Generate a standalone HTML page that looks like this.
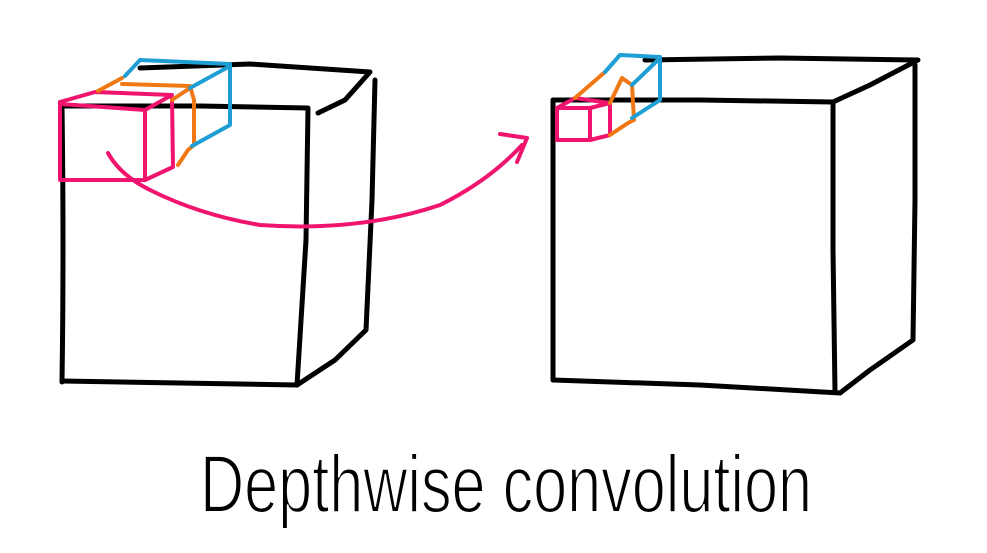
<!DOCTYPE html>
<html><head><style>body{margin:0;background:#fff}svg{display:block}</style></head><body>
<svg width="987" height="553" viewBox="0 0 987 553" xmlns="http://www.w3.org/2000/svg" fill="none" stroke-linecap="round" stroke-linejoin="round">
<g stroke="#000" stroke-width="5">
<path d="M62,106 Q64,250 62,382"/>
<path d="M62,106 L200,106 L308,108 L306,240 L297,385"/>
<path d="M62,381 L297,385"/>
<path d="M140,68 L250,64 L370,72 L345,100 L318,113"/>
<path d="M375,80 L372,200 L366,330 L335,360 L297,385"/>
<path d="M553,100 L700,100 L833,102 L833,250 L835,392"/>
<path d="M553,100 L553,250 L553,380"/>
<path d="M553,380 L700,385 L840,393"/>
<path d="M645,60 L780,58 L918,60 L870,85 L833,102"/>
<path d="M915,65 L915,200 L913,340 L870,370 L840,393"/>
</g>
<g stroke="#f0146e" stroke-width="4">
<path d="M60,102 L60,180 L145,180 L145,110"/>
<path d="M60,102 L95,92 L172,95 L145,110 L60,104"/>
<path d="M172,98 L173,167 L145,180"/>
<path d="M108,153 Q120,175 150,190 Q200,215 260,225 Q360,232 440,205 Q490,180 522,145"/>
<path d="M500,134 L527,138 L517,162"/>
<path d="M557,108 L557,140 L590,140 L610,135 L610,103 L590,108 L557,108 L575,98 L610,103"/>
<path d="M590,108 L590,140"/>
</g>
<g stroke="#f07814" stroke-width="4">
<path d="M98,91 L122,78"/>
<path d="M122,84 L190,86 L194,100 L194,145 L188,150 L178,165"/>
<path d="M172,100 L190,88"/>
<path d="M575,98 L605,72"/>
<path d="M610,103 L622,78 L632,85 L634,120 L628,123 L610,135"/>
</g>
<g stroke="#1e9ed2" stroke-width="4">
<path d="M125,76 L140,60 L230,64 L230,125 L192,146"/>
<path d="M190,88 L230,66"/>
<path d="M605,72 L620,55 L660,57 L660,100 L632,118"/>
<path d="M632,85 L660,58"/>
</g>
<text x="200" y="512" textLength="612" lengthAdjust="spacingAndGlyphs" font-family="Liberation Sans, sans-serif" font-size="82" fill="#000" stroke="#fff" stroke-width="2" font-weight="normal">Depthwise convolution</text>
</svg>
</body></html>
